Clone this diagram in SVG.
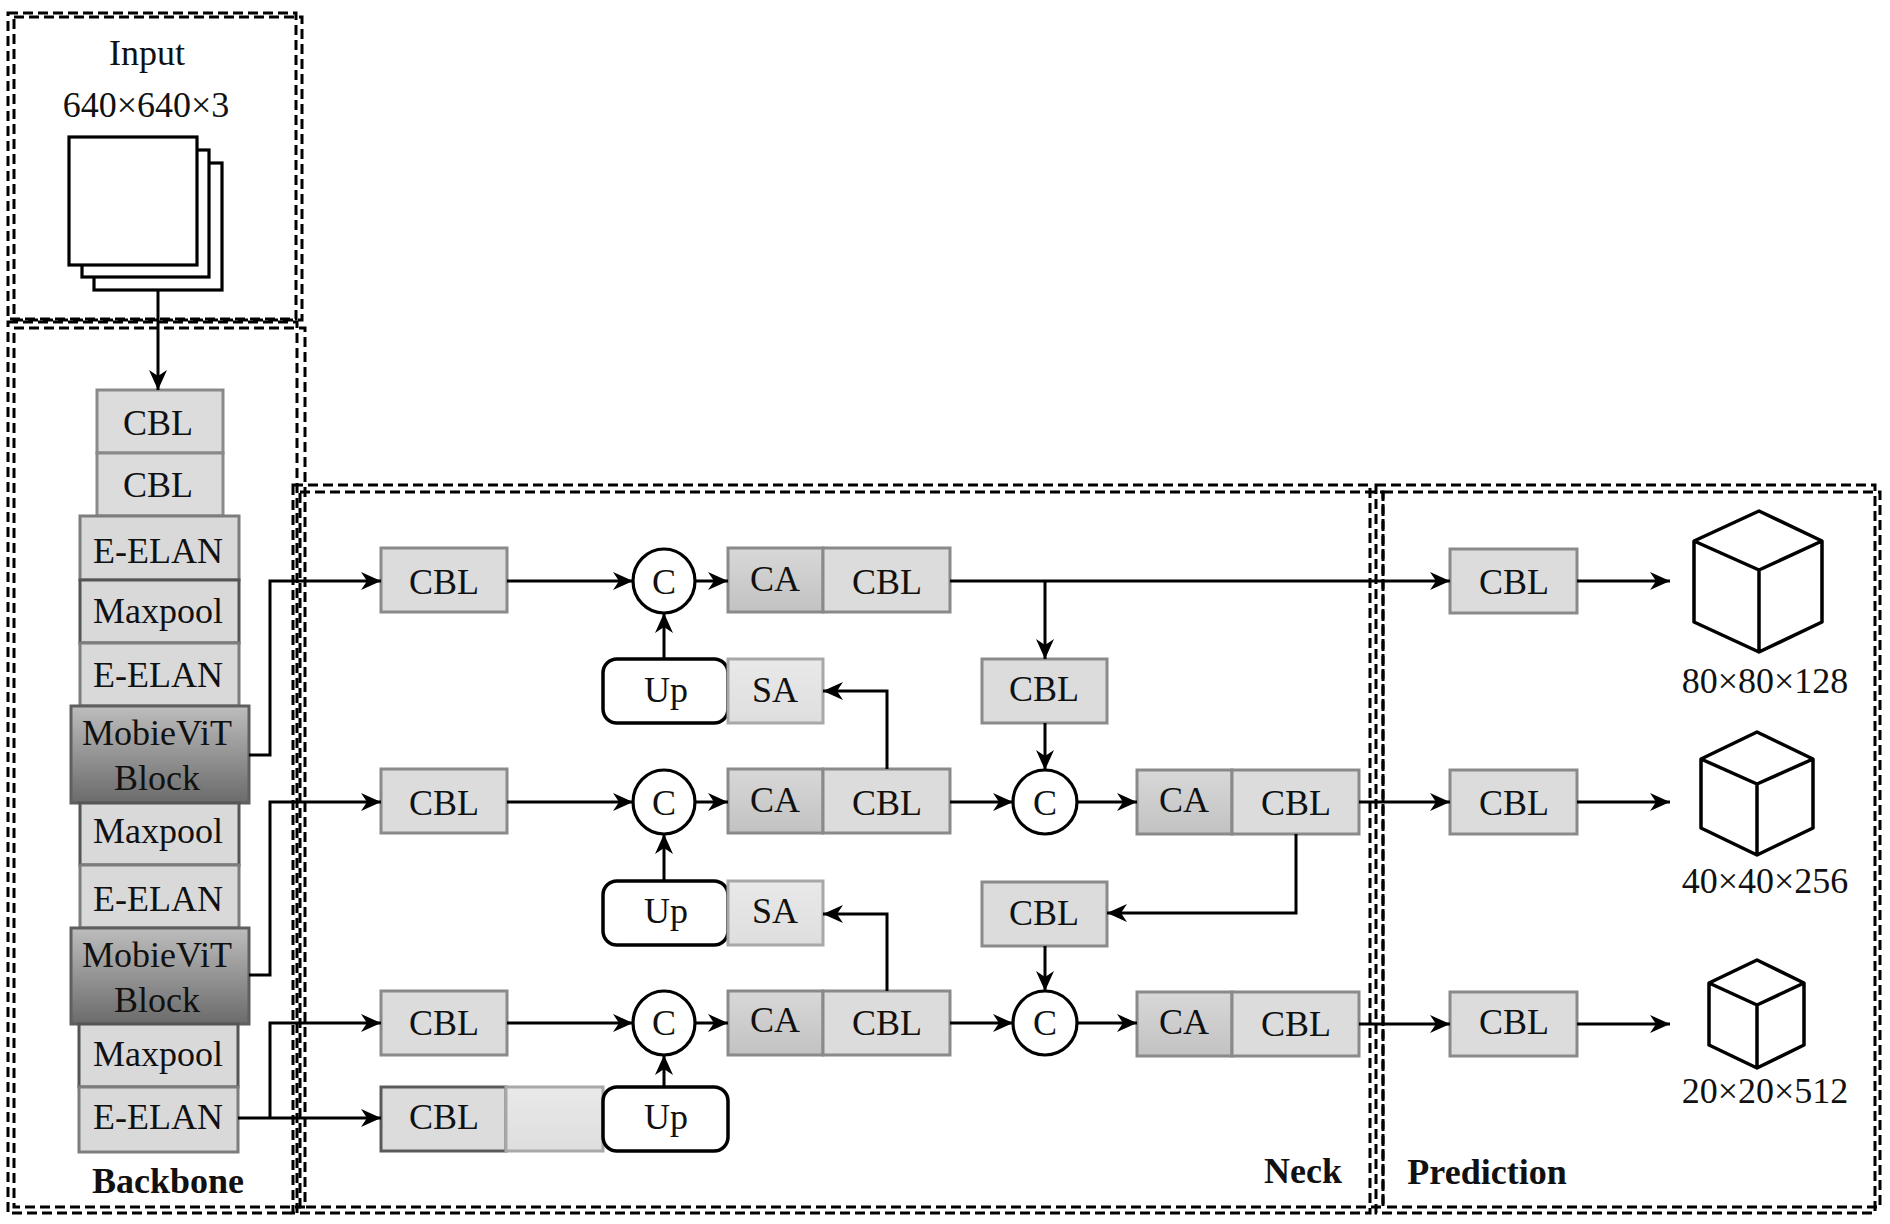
<svg xmlns="http://www.w3.org/2000/svg" width="1890" height="1224" viewBox="0 0 1890 1224">
<defs>
<marker id="arr" markerUnits="userSpaceOnUse" markerWidth="22" markerHeight="20" refX="20" refY="9" orient="auto">
<path d="M0,0 L20,9 L0,18 L6,9 z" fill="#000"/>
</marker>
<linearGradient id="gMob" x1="0" y1="0" x2="0" y2="1">
<stop offset="0" stop-color="#bdbdbd"/><stop offset="1" stop-color="#6b6b6b"/>
</linearGradient>
<linearGradient id="gCA" x1="0" y1="0" x2="0" y2="1">
<stop offset="0" stop-color="#d8d8d8"/><stop offset="1" stop-color="#c2c2c2"/>
</linearGradient>
<linearGradient id="gLt" x1="0" y1="0" x2="0" y2="1">
<stop offset="0" stop-color="#e9e9e9"/><stop offset="1" stop-color="#dedede"/>
</linearGradient>
</defs>
<style>
.dash{fill:none;stroke:#000;stroke-width:3;stroke-dasharray:10 5}
.cbl{fill:#dcdcdc;stroke:#8a8a8a;stroke-width:3}
.bb{fill:#d9d9d9;stroke:#7d7d7d;stroke-width:3}
.bbd{fill:#d9d9d9;stroke:#555;stroke-width:3}
.mob{fill:url(#gMob);stroke:#5f5f5f;stroke-width:3}
.ca{fill:url(#gCA);stroke:#8a8a8a;stroke-width:3}
.sa{fill:url(#gLt);stroke:#a8a8a8;stroke-width:3}
.up{fill:#fff;stroke:#000;stroke-width:3.5}
.cc{fill:#fff;stroke:#000;stroke-width:3.2}
.sq{fill:#fff;stroke:#000;stroke-width:3.2}
.cube{fill:#fff;stroke:#000;stroke-width:3.5;stroke-linejoin:round}
.ln{fill:none;stroke:#000;stroke-width:3}
.ar{fill:none;stroke:#000;stroke-width:3;marker-end:url(#arr)}
text{font-family:"Liberation Serif","Times New Roman",serif;font-size:36px;fill:#111;text-anchor:middle}
.bold{font-weight:bold}
</style>

<g id="frames">
<rect class="dash" x="8" y="13" width="288" height="306"/>
<rect class="dash" x="14" y="17" width="288" height="303"/>
<rect class="dash" x="8" y="322" width="289" height="891"/>
<rect class="dash" x="14" y="328" width="291" height="879"/>
<rect class="dash" x="293" y="485" width="1077" height="728"/>
<rect class="dash" x="300" y="492" width="1083" height="715"/>
<rect class="dash" x="1376" y="485" width="499" height="728"/>
<rect class="dash" x="1383" y="492" width="497" height="715"/>
</g>

<g id="input">
<text x="147" y="65">Input</text>
<text x="146" y="117">640×640×3</text>
<rect class="sq" x="94" y="163" width="128" height="127"/>
<rect class="sq" x="82" y="150" width="127" height="127"/>
<rect class="sq" x="69" y="137" width="128" height="128"/>
</g>

<g id="backbone">
<g id="bb-cbl1"><rect class="cbl" x="97" y="390" width="126" height="63"/><text x="158" y="435">CBL</text></g>
<g id="bb-cbl2"><rect class="cbl" x="97" y="453" width="126" height="63"/><text x="158" y="497">CBL</text></g>
<g id="bb-eelan1"><rect class="bb" x="80" y="516" width="159" height="64"/><text x="158" y="563">E-ELAN</text></g>
<g id="bb-maxpool1"><rect class="bbd" x="80" y="580" width="159" height="63"/><text x="158" y="623">Maxpool</text></g>
<g id="bb-eelan2"><rect class="bb" x="80" y="643" width="159" height="63"/><text x="158" y="687">E-ELAN</text></g>
<g id="bb-mob1"><rect class="mob" x="71" y="706" width="178" height="97"/><text x="157" y="745">MobieViT</text><text x="157" y="790">Block</text></g>
<g id="bb-maxpool2"><rect class="bbd" x="80" y="803" width="159" height="62"/><text x="158" y="843">Maxpool</text></g>
<g id="bb-eelan3"><rect class="bb" x="80" y="865" width="159" height="63"/><text x="158" y="911">E-ELAN</text></g>
<g id="bb-mob2"><rect class="mob" x="71" y="928" width="178" height="96"/><text x="157" y="967">MobieViT</text><text x="157" y="1012">Block</text></g>
<g id="bb-maxpool3"><rect class="bbd" x="79" y="1024" width="159" height="63"/><text x="158" y="1066">Maxpool</text></g>
<g id="bb-eelan4"><rect class="bb" x="79" y="1087" width="159" height="65"/><text x="158" y="1129">E-ELAN</text></g>
<text class="bold" x="168" y="1193">Backbone</text>
</g>

<g id="neck">
<g id="n-cbl1"><rect class="cbl" x="381" y="548" width="126" height="64"/><text x="444" y="594">CBL</text></g>
<g id="n-c1"><ellipse class="cc" cx="664" cy="581" rx="31" ry="32"/><text x="664" y="594">C</text></g>
<g id="n-ca1"><rect class="ca" x="728" y="548" width="95" height="64"/><text x="775" y="591">CA</text></g>
<g id="n-cbl1b"><rect class="cbl" x="823" y="548" width="127" height="64"/><text x="887" y="594">CBL</text></g>
<g id="n-up1"><rect class="up" x="603" y="659" width="125" height="64" rx="14"/><text x="666" y="702">Up</text></g>
<g id="n-sa1"><rect class="sa" x="728" y="659" width="95" height="64"/><text x="775" y="702">SA</text></g>
<g id="n-cblm1"><rect class="cbl" x="982" y="659" width="125" height="64"/><text x="1044" y="701">CBL</text></g>
<g id="n-cbl2"><rect class="cbl" x="381" y="769" width="126" height="64"/><text x="444" y="815">CBL</text></g>
<g id="n-c2"><ellipse class="cc" cx="664" cy="802" rx="31" ry="32"/><text x="664" y="815">C</text></g>
<g id="n-ca2"><rect class="ca" x="728" y="769" width="95" height="64"/><text x="775" y="812">CA</text></g>
<g id="n-cbl2b"><rect class="cbl" x="823" y="769" width="127" height="64"/><text x="887" y="815">CBL</text></g>
<g id="n-c2r"><ellipse class="cc" cx="1045" cy="802" rx="32" ry="32"/><text x="1045" y="815">C</text></g>
<g id="n-ca2r"><rect class="ca" x="1137" y="770" width="95" height="64"/><text x="1184" y="812">CA</text></g>
<g id="n-cbl2r"><rect class="cbl" x="1232" y="770" width="127" height="64"/><text x="1296" y="815">CBL</text></g>
<g id="n-up2"><rect class="up" x="603" y="881" width="125" height="64" rx="14"/><text x="666" y="923">Up</text></g>
<g id="n-sa2"><rect class="sa" x="728" y="881" width="95" height="64"/><text x="775" y="923">SA</text></g>
<g id="n-cblm2"><rect class="cbl" x="982" y="882" width="125" height="64"/><text x="1044" y="925">CBL</text></g>
<g id="n-cbl3"><rect class="cbl" x="381" y="991" width="126" height="64"/><text x="444" y="1035">CBL</text></g>
<g id="n-c3"><ellipse class="cc" cx="664" cy="1023" rx="31" ry="32"/><text x="664" y="1035">C</text></g>
<g id="n-ca3"><rect class="ca" x="728" y="991" width="95" height="64"/><text x="775" y="1032">CA</text></g>
<g id="n-cbl3b"><rect class="cbl" x="823" y="991" width="127" height="64"/><text x="887" y="1035">CBL</text></g>
<g id="n-c3r"><ellipse class="cc" cx="1045" cy="1023" rx="32" ry="32"/><text x="1045" y="1035">C</text></g>
<g id="n-ca3r"><rect class="ca" x="1137" y="992" width="95" height="64"/><text x="1184" y="1034">CA</text></g>
<g id="n-cbl3r"><rect class="cbl" x="1232" y="992" width="127" height="64"/><text x="1296" y="1036">CBL</text></g>
<g id="n-cbl4"><rect class="cbl" x="381" y="1087" width="125" height="64" style="stroke:#5a5a5a"/><text x="444" y="1129">CBL</text></g>
<g id="n-blank"><rect class="sa" x="506" y="1087" width="97" height="64"/></g>
<g id="n-up3"><rect class="up" x="603" y="1087" width="125" height="64" rx="14"/><text x="666" y="1129">Up</text></g>
<text class="bold" x="1303" y="1183">Neck</text>
</g>

<g id="prediction">
<g id="p-cbl1"><rect class="cbl" x="1450" y="549" width="127" height="64"/><text x="1514" y="594">CBL</text></g>
<g id="p-cbl2"><rect class="cbl" x="1450" y="770" width="127" height="64"/><text x="1514" y="815">CBL</text></g>
<g id="p-cbl3"><rect class="cbl" x="1450" y="992" width="127" height="64"/><text x="1514" y="1034">CBL</text></g>
<g id="p-cube1">
<path class="cube" d="M1759,511 L1822,541 L1822,622 L1759,652 L1694,622 L1694,541 Z M1694,541 L1759,570 L1822,541 M1759,570 L1759,652"/>
<text x="1765" y="693">80×80×128</text>
</g>
<g id="p-cube2">
<path class="cube" d="M1757,732 L1813,759 L1813,828 L1757,855 L1701,828 L1701,759 Z M1701,759 L1757,784 L1813,759 M1757,784 L1757,855"/>
<text x="1765" y="893">40×40×256</text>
</g>
<g id="p-cube3">
<path class="cube" d="M1757,960 L1804,983 L1804,1045 L1757,1068 L1709,1045 L1709,983 Z M1709,983 L1757,1005 L1804,983 M1757,1005 L1757,1068"/>
<text x="1765" y="1103">20×20×512</text>
</g>
<text class="bold" x="1487" y="1184">Prediction</text>
</g>

<g id="connectors">
<path class="ar" d="M158,290 L158,390"/>
<path class="ar" d="M249,755 L270,755 L270,581 L381,581"/>
<path class="ar" d="M249,975 L270,975 L270,802 L381,802"/>
<path class="ar" d="M238,1118 L381,1118"/>
<path class="ar" d="M270,1118 L270,1023 L381,1023"/>
<path class="ar" d="M507,581 L633,581"/>
<path class="ar" d="M695,581 L728,581"/>
<path class="ar" d="M950,581 L1450,581"/>
<path class="ar" d="M1045,581 L1045,659"/>
<path class="ar" d="M1045,723 L1045,770"/>
<path class="ar" d="M664,659 L664,613"/>
<path class="ar" d="M887,769 L887,691 L823,691"/>
<path class="ar" d="M507,802 L633,802"/>
<path class="ar" d="M695,802 L728,802"/>
<path class="ar" d="M950,802 L1013,802"/>
<path class="ar" d="M1077,802 L1137,802"/>
<path class="ar" d="M1359,802 L1450,802"/>
<path class="ar" d="M1296,834 L1296,913 L1107,913"/>
<path class="ar" d="M1045,946 L1045,991"/>
<path class="ar" d="M664,881 L664,834"/>
<path class="ar" d="M887,991 L887,914 L823,914"/>
<path class="ar" d="M507,1023 L633,1023"/>
<path class="ar" d="M695,1023 L728,1023"/>
<path class="ar" d="M950,1023 L1013,1023"/>
<path class="ar" d="M1077,1023 L1137,1023"/>
<path class="ar" d="M1359,1024 L1450,1024"/>
<path class="ar" d="M664,1087 L664,1055"/>
<path class="ar" d="M1577,581 L1670,581"/>
<path class="ar" d="M1577,802 L1670,802"/>
<path class="ar" d="M1577,1024 L1670,1024"/>
</g>
</svg>
